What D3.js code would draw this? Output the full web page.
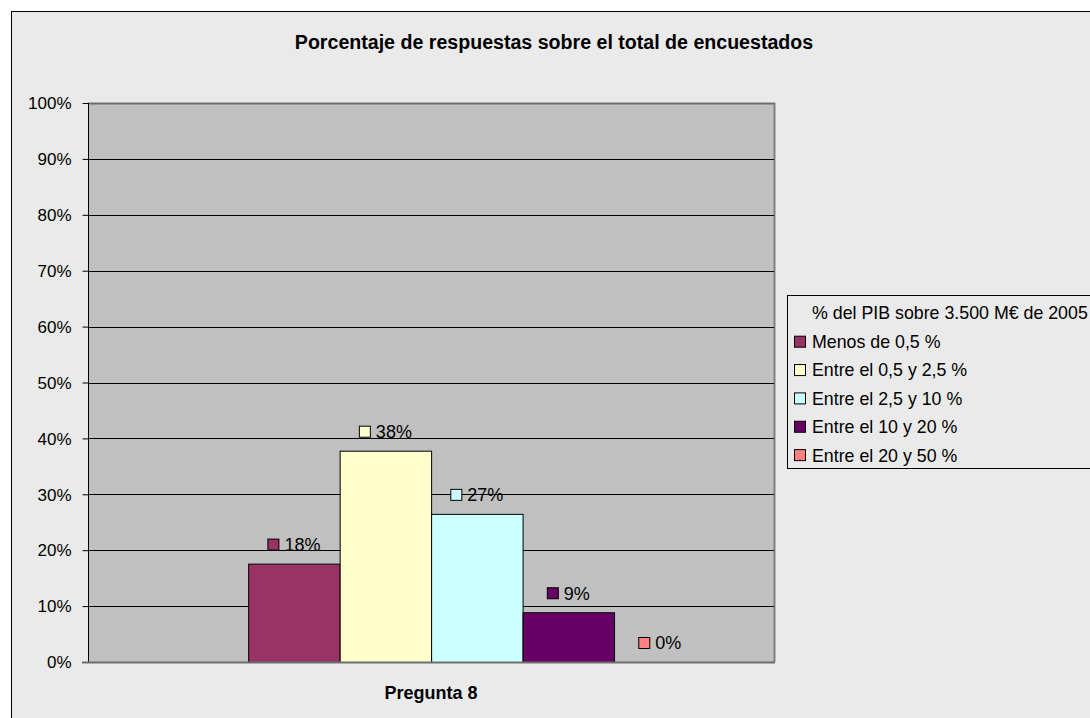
<!DOCTYPE html>
<html><head><meta charset="utf-8">
<script src="https://cdn.jsdelivr.net/npm/d3@7"></script>
<style>html,body{margin:0;padding:0;background:#fff;overflow:hidden}</style>
</head><body>
<svg id="c" width="1090" height="718"></svg>
<script>
const categories = ["Pregunta 8"];
const seriesNames = ["Menos de 0,5 %","Entre el 0,5 y 2,5 %","Entre el 2,5 y 10 %","Entre el 10 y 20 %","Entre el 20 y 50 %"];
const seriesValues = [17.6, 37.8, 26.5, 8.9, 0];
const seriesLabels = ["18%","38%","27%","9%","0%"];
const seriesColors = ["#993366","#FFFFCC","#CCFFFF","#660066","#FF8080"];
const yTicks = [0,10,20,30,40,50,60,70,80,90,100];
const titleText = "Porcentaje de respuestas sobre el total de encuestados";
const legendTitle = "% del PIB sobre 3.500 M€ de 2005";

const svg = d3.select("#c");
const FONT = "Arial, 'Liberation Sans', sans-serif";

// chart area
svg.append("rect").attr("x",11.5).attr("y",11.5).attr("width",1100).attr("height",720)
  .attr("fill","#EAEAEA").attr("stroke","#000").attr("stroke-width",1);

const L = 88, R = 774, T = 103, B = 662;
const y = d3.scaleLinear().domain([0,100]).range([B,T]);
const x0 = d3.scaleBand().domain(categories).range([L,R]).paddingInner(0).paddingOuter(0);
const groupW = x0.bandwidth()*2/3;
const gx = x0(categories[0]) + x0.bandwidth()*0.2335;
const x1 = d3.scaleBand().domain(seriesNames).range([0,groupW]);

// plot area
svg.append("rect").attr("x",L).attr("y",T).attr("width",R-L).attr("height",B-T).attr("fill","#C0C0C0");
svg.append("line").attr("x1",R+0.5).attr("x2",R+0.5).attr("y1",T).attr("y2",B).attr("stroke","#808080").attr("stroke-width",2);
svg.append("line").attr("x1",L).attr("x2",R+1).attr("y1",T+0.5).attr("y2",T+0.5).attr("stroke","#6E6E6E").attr("stroke-width",2);

// gridlines
svg.append("g").selectAll("line").data(yTicks.filter(d=>d>0&&d<100)).join("line")
  .attr("x1",L).attr("x2",R).attr("y1",d=>Math.round(y(d))+0.5).attr("y2",d=>Math.round(y(d))+0.5)
  .attr("stroke","#000").attr("stroke-width",1);

// bars
svg.append("g").selectAll("rect").data(seriesValues).join("rect")
  .attr("x",(d,i)=>gx + x1(seriesNames[i])+0.5)
  .attr("y",d=>y(d)+0.5)
  .attr("width",x1.bandwidth())
  .attr("height",d=>Math.max(0,B-y(d)))
  .attr("fill",(d,i)=>seriesColors[i])
  .attr("stroke","#000").attr("stroke-width",1)
  .attr("display",d=>d>0?null:"none");

// y axis
const yAxis = d3.axisLeft(y).tickValues(yTicks).tickFormat(d=>d+"%").tickSize(6).tickPadding(11);
const ga = svg.append("g").attr("transform",`translate(${L+0.5},0)`).call(yAxis);
ga.select(".domain").attr("stroke","#000").attr("d",`M0,${T}V${B}`);
ga.selectAll(".tick line").attr("stroke","#000");
ga.selectAll(".tick text").attr("font-family",FONT).attr("font-size",17).attr("fill","#000").attr("dy","0.34em");

// bottom axis line
svg.append("line").attr("x1",L-6).attr("x2",R+1).attr("y1",B+0.5).attr("y2",B+0.5).attr("stroke","#6E6E6E").attr("stroke-width",2);

// data labels
const LFS = 18;
const lab = svg.append("g").selectAll("g").data(seriesValues).join("g")
  .attr("transform",(d,i)=>`translate(${gx + x1(seriesNames[i]) + x1.bandwidth()/2},${y(d)-19})`);
lab.append("text").attr("font-family",FONT).attr("font-size",LFS).attr("fill","#000")
  .attr("dy","0.36em").text((d,i)=>seriesLabels[i]).attr("x",function(){
    const w = this.getComputedTextLength(); return -(w+17)/2 + 17;
  });
lab.append("rect").attr("width",11).attr("height",11).attr("y",-5.5)
  .attr("x",function(){ const w=this.parentNode.querySelector("text").getComputedTextLength(); return -(w+17)/2+0.5; })
  .attr("fill",(d,i)=>seriesColors[i]).attr("stroke","#000").attr("stroke-width",1);

// title
svg.append("text").attr("x",554).attr("y",49).attr("text-anchor","middle")
  .attr("font-family",FONT).attr("font-weight","bold").attr("font-size",19.6).text(titleText);
// x category label
svg.append("text").attr("x",x0(categories[0])+x0.bandwidth()/2).attr("y",699).attr("text-anchor","middle")
  .attr("font-family",FONT).attr("font-weight","bold").attr("font-size",18).text(categories[0]);

// legend
const GFS = 17.8;
const lg = svg.append("g");
lg.append("rect").attr("x",787.5).attr("y",295.5).attr("width",400).attr("height",173)
  .attr("fill","#EAEAEA").attr("stroke","#000").attr("stroke-width",1);
lg.append("text").attr("x",812).attr("y",313).attr("dy","0.36em").attr("font-family",FONT).attr("font-size",GFS).text(legendTitle);
const li = lg.selectAll("g.it").data(seriesNames).join("g").attr("class","it")
  .attr("transform",(d,i)=>`translate(0,${341.7 + i*28.35})`);
li.append("rect").attr("x",794.5).attr("y",-5.5).attr("width",11).attr("height",11)
  .attr("fill",(d,i)=>seriesColors[i]).attr("stroke","#000");
li.append("text").attr("x",812).attr("dy","0.36em").attr("font-family",FONT).attr("font-size",GFS).text(d=>d);
</script>
</body></html>
